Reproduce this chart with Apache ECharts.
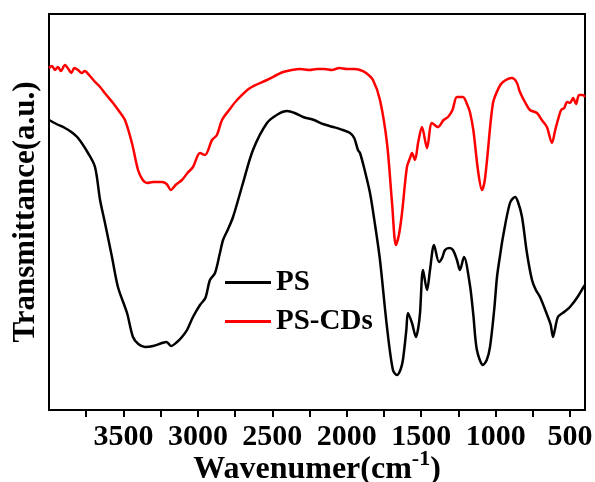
<!DOCTYPE html>
<html>
<head>
<meta charset="utf-8">
<script src="https://cdn.jsdelivr.net/npm/echarts@6/dist/echarts.min.js"></script>
<style>
  html, body { margin: 0; padding: 0; background: #fff; }
  #chart { width: 595px; height: 482px; }
</style>
</head>
<body>
<div id="chart"></div>
<script>
// wavenumber (cm-1), transmittance (a.u.)
var psWave = [4000, 3950, 3893, 3850, 3805, 3738, 3691, 3657, 3624, 3577, 3537, 3476, 3436, 3400, 3355, 3300, 3241, 3210, 3181, 3140, 3107, 3073, 3033, 2986, 2950, 2919, 2885, 2852, 2831, 2800, 2764, 2697, 2630, 2536, 2460, 2402, 2350, 2294, 2220, 2160, 2090, 2026, 1978, 1950, 1925, 1911, 1880, 1844, 1810, 1777, 1730, 1690, 1663, 1640, 1623, 1600, 1589, 1562, 1535, 1520, 1508, 1488, 1461, 1441, 1414, 1381, 1360, 1340, 1310, 1287, 1260, 1240, 1213, 1173, 1150, 1126, 1085, 1060, 1038, 1010, 991, 970, 951, 904, 870, 850, 823, 790, 756, 730, 702, 649, 630, 615, 600, 582, 540, 501, 450, 414, 400]
var psVal = [290, 286, 282, 278, 272, 257, 243, 210, 187, 153, 123, 97, 73, 66, 63, 64, 67, 68, 64, 68, 73, 80, 93, 105, 112, 130, 137, 157, 170, 180, 193, 227, 260, 287, 296, 299, 297, 293, 290, 286, 283, 280, 277, 272, 260, 257, 240, 217, 185, 150, 83, 40, 35, 40, 50, 80, 97, 87, 73, 82, 97, 140, 120, 140, 165, 148, 152, 160, 162, 160, 150, 140, 153, 125, 95, 60, 45, 50, 63, 100, 133, 155, 173, 207, 213, 208, 193, 157, 130, 120, 113, 93, 85, 73, 82, 93, 98, 103, 113, 122, 125]

var cdWave = [4000, 3980, 3960, 3940, 3920, 3893, 3870, 3850, 3830, 3805, 3780, 3760, 3725, 3690, 3657, 3620, 3570, 3530, 3490, 3443, 3402, 3370, 3342, 3300, 3241, 3210, 3181, 3150, 3107, 3070, 3033, 2986, 2952, 2905, 2872, 2838, 2790, 2737, 2650, 2536, 2428, 2370, 2314, 2250, 2200, 2150, 2100, 2050, 2000, 1950, 1911, 1870, 1824, 1777, 1730, 1696, 1670, 1650, 1629, 1596, 1575, 1562, 1542, 1520, 1495, 1461, 1428, 1387, 1350, 1320, 1290, 1260, 1220, 1190, 1173, 1150, 1119, 1092, 1075, 1058, 1018, 980, 951, 891, 860, 837, 800, 770, 723, 690, 656, 622, 600, 582, 560, 540, 520, 501, 480, 460, 440, 414, 400]
var cdVal = [342, 344, 340, 343, 339, 345, 341, 337, 342, 340, 337, 339, 334, 328, 323, 316, 307, 299, 290, 267, 240, 230, 227, 228, 228, 226, 220, 225, 230, 237, 243, 257, 255, 270, 275, 290, 300, 310, 322, 330, 338, 340, 341, 340, 341, 341, 340, 342, 341, 341, 340, 337, 330, 310, 267, 207, 165, 175, 197, 243, 252, 257, 250, 268, 283, 262, 287, 283, 290, 293, 300, 313, 313, 305, 298, 280, 240, 220, 228, 250, 307, 322, 328, 332, 328, 318, 307, 300, 297, 290, 283, 267, 280, 290, 300, 302, 308, 307, 312, 306, 315, 315, 313]

var tickValues = [3750, 3500, 3250, 3000, 2750, 2500, 2250, 2000, 1750, 1500, 1250, 1000, 750, 500]
var labelValues = [3500, 3000, 2500, 2000, 1500, 1000, 500]

function pairs(xs, ys) {
  var out = []
  for (var i = 0; i < xs.length; i++) out.push([xs[i], ys[i]])
  return out
}

var font = 'Liberation Serif'
var chart = echarts.init(document.getElementById('chart'))
chart.setOption({
  animation: false,
  backgroundColor: '#fff',
  grid: {
    left: 49, right: 10, top: 14, bottom: 72,
    outerBoundsMode: 'none',
    containLabel: false,
    show: true, borderColor: '#000', borderWidth: 2
  },
  legend: {
    orient: 'vertical',
    left: 220, top: 263,
    itemGap: 10,
    itemWidth: 46, itemHeight: 3,
    icon: 'rect',
    textStyle: { fontFamily: font, fontWeight: 'bold', fontSize: 29, color: '#000' },
    data: ['PS', 'PS-CDs']
  },
  xAxis: {
    type: 'value',
    min: 400, max: 4000,
    inverse: true,
    axisLine: { lineStyle: { color: '#000', width: 2 } },
    axisTick: {
      customValues: tickValues,
      length: 7, inside: false,
      lineStyle: { color: '#000', width: 2 }
    },
    axisLabel: {
      customValues: labelValues,
      formatter: function(v) { return String(v) },
      margin: 12,
      fontFamily: font, fontWeight: 'bold', fontSize: 30, color: '#000'
    },
    splitLine: { show: false },
    name: '{a|Wavenumer(cm}{s|-1}{a|)}',
    nameLocation: 'middle',
    nameGap: 38,
    nameMoveOverlap: false,
    nameTextStyle: {
      rich: {
        a: { fontFamily: font, fontWeight: 'bold', fontSize: 32, color: '#000', verticalAlign: 'bottom' },
        s: { fontFamily: font, fontWeight: 'bold', fontSize: 22, color: '#000', verticalAlign: 'top', padding: [0, 0, 16, 0] }
      }
    }
  },
  yAxis: {
    type: 'value',
    min: 0, max: 396,
    axisLine: { show: true, lineStyle: { color: '#000', width: 2 } },
    axisTick: { show: false },
    axisLabel: { show: false },
    splitLine: { show: false },
    name: 'Transmittance(a.u.)',
    nameLocation: 'middle',
    nameGap: 8,
    nameTextStyle: { fontFamily: font, fontWeight: 'bold', fontSize: 31, color: '#000' }
  },
  series: [
    {
      name: 'PS', type: 'line', data: pairs(psWave, psVal),
      showSymbol: false, smooth: 0.3,
      lineStyle: { color: '#000', width: 2.5 }, itemStyle: { color: '#000' }
    },
    {
      name: 'PS-CDs', type: 'line', data: pairs(cdWave, cdVal),
      showSymbol: false, smooth: 0.3,
      lineStyle: { color: '#ff0000', width: 2.5 }, itemStyle: { color: '#ff0000' }
    }
  ]
})
</script>
</body>
</html>
